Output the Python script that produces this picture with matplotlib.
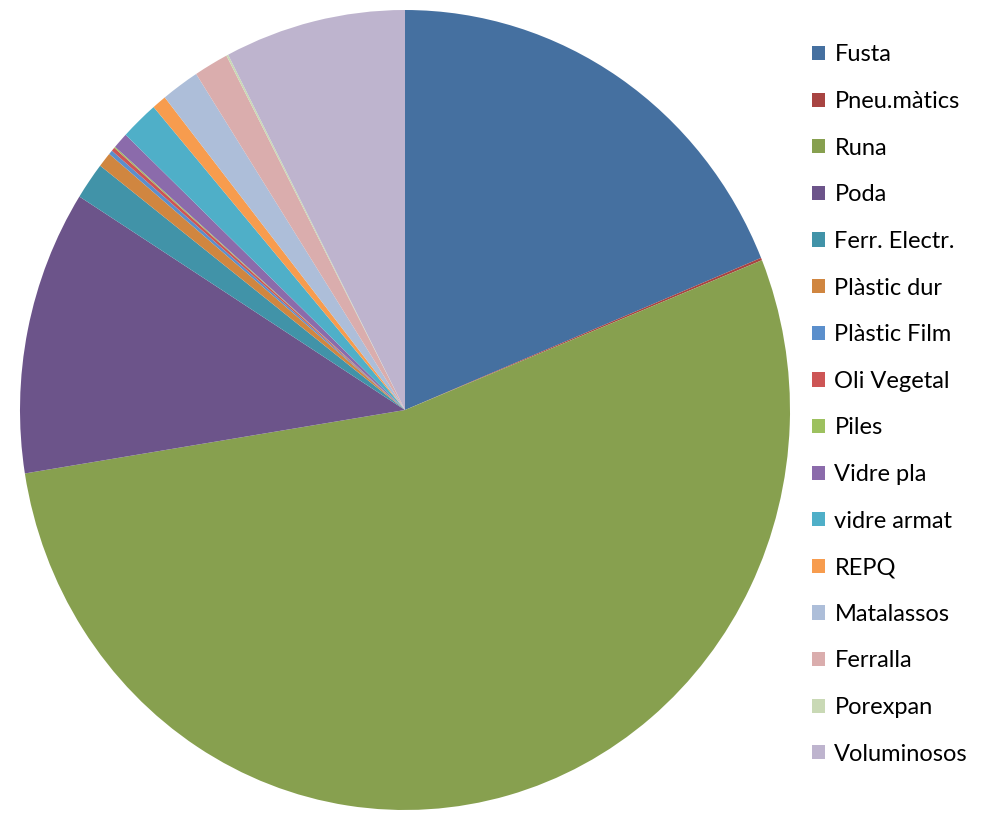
import matplotlib.pyplot as plt
from matplotlib.patches import Patch

# === Data ===
labels = ["Fusta", "Pneu.màtics", "Runa", "Poda", "Ferr. Electr.", "Plàstic dur",
          "Plàstic Film", "Oli Vegetal", "Piles", "Vidre pla", "vidre armat", "REPQ",
          "Matalassos", "Ferralla", "Porexpan", "Voluminosos"]
values = [18.8, 0.1, 53.6, 11.5, 1.5, 0.6, 0.17, 0.15, 0.05, 0.65, 1.6, 0.6,
          1.6, 1.45, 0.08, 7.6]
colors = ["#4570A0", "#A84442", "#87A04F", "#6C548A", "#4193A8", "#D08640",
          "#5B8FCC", "#CD5555", "#9DC15F", "#8B6BAB", "#4FAFC8", "#F79C4E",
          "#ADBED9", "#DAADAD", "#C9D9B5", "#BEB4CE"]

plt.rcParams['font.family'] = ['Lato', 'DejaVu Sans']

fig = plt.figure(figsize=(9.93, 8.13), dpi=100)
ax = fig.add_axes([20 / 993, 3 / 813, 770 / 993, 800 / 813])

ax.pie(values, colors=colors, startangle=90, counterclock=False,
       wedgeprops=dict(linewidth=0))
ax.set_aspect('auto')
ax.set_xlim(-1, 1)
ax.set_ylim(-1, 1)
ax.set_axis_off()

handles = [Patch(facecolor=c, edgecolor='none') for c in colors]
fig.legend(handles, labels, loc='upper left', bbox_to_anchor=(803 / 993, 1 - 35 / 813),
           frameon=False, fontsize=17, handlelength=0.55, handleheight=0.55,
           handletextpad=0.38, labelspacing=1.085, borderaxespad=0)

fig.savefig("out.png", dpi=100)
